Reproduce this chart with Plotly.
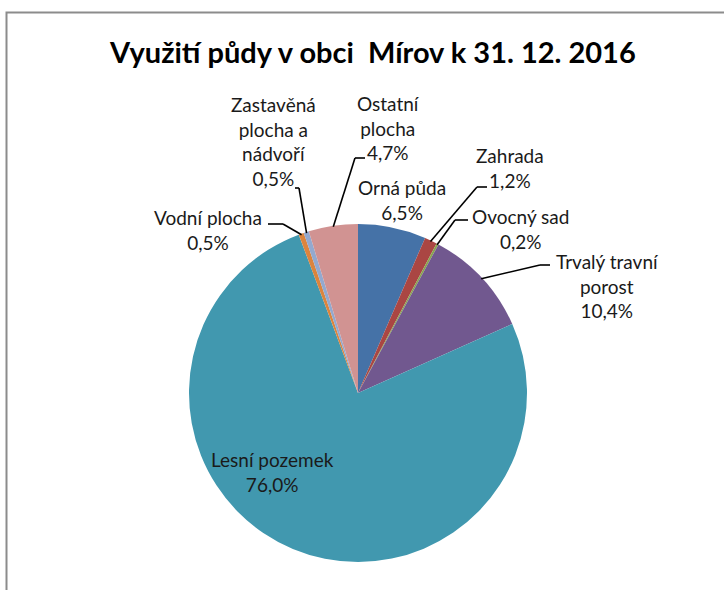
import math
import plotly.graph_objects as go

# ---- data ----
categories = ["Orná půda", "Zahrada", "Ovocný sad", "Trvalý travní porost",
              "Lesní pozemek", "Vodní plocha", "Zastavěná plocha a nádvoří",
              "Ostatní plocha"]
values = [6.5, 1.2, 0.2, 10.4, 76.0, 0.5, 0.5, 4.7]
label_names = ["Orná půda", "Zahrada", "Ovocný sad", "Trvalý travní<br>porost",
               "Lesní pozemek", "Vodní plocha", "Zastavěná<br>plocha a<br>nádvoří",
               "Ostatní<br>plocha"]
title_text = "Využití půdy v obci  Mírov k 31. 12. 2016"

# ---- styles / positions ----
colors = ["#4572A7", "#AA4643", "#89A54E", "#71588F",
          "#4198AF", "#DB843D", "#93A9CF", "#D19392"]
W, H = 724, 590
CX, CY, R = 358, 393, 169           # pie centre / radius in pixels
# label block centres (pixels)
label_pos = [(402, 200), (510, 168), (520, 229), (607, 286),
             (272, 472), (208, 230), (273, 141), (388, 128)]
# leader elbows: list of points after the pie edge point (pixels), None = no line
leaders = [None,
           [(477, 187), (487, 187)],
           [(455, 220), (468, 220)],
           [(540, 265), (550, 265)],
           None,
           [(283, 224), (268, 224)],
           [(299, 188), (295, 188)],
           [(355, 158), (365, 158)]]
FONT = "Lato"

def px(x):
    return x / W

def py(y):
    return 1 - y / H

fig = go.Figure()
fig.add_trace(go.Pie(
    labels=categories, values=values, sort=False, direction="clockwise",
    rotation=0, marker=dict(colors=colors, line=dict(width=0)),
    textinfo="none", hoverinfo="label+percent", showlegend=False,
    domain=dict(x=[px(CX - R), px(CX + R)], y=[py(CY + R), py(CY - R)]),
))

total = sum(values)
cum = 0.0
shapes = []
annotations = []
for i, v in enumerate(values):
    mid = (cum + v / 2) / total * 2 * math.pi
    cum += v
    ex = CX + (R - 1) * math.sin(mid)
    ey = CY - (R - 1) * math.cos(mid)
    txt = label_names[i] + "<br>" + f"{v:.1f}".replace(".", ",") + "%"
    lx, ly = label_pos[i]
    annotations.append(dict(x=px(lx), y=py(ly), xref="paper", yref="paper",
                            text=txt, showarrow=False, align="center",
                            xanchor="center", yanchor="middle",
                            font=dict(family=FONT, size=19, color="#1a1a1a")))
    if leaders[i]:
        pts = [(ex, ey)] + leaders[i]
        for (x0, y0), (x1, y1) in zip(pts[:-1], pts[1:]):
            shapes.append(dict(type="line", xref="paper", yref="paper",
                               x0=px(x0), y0=py(y0), x1=px(x1), y1=py(y1),
                               line=dict(color="#000000", width=1.6)))

# chart frame
shapes.append(dict(type="rect", xref="paper", yref="paper",
                   x0=px(6.5), y0=-0.05, x1=1.05, y1=py(12.5),
                   line=dict(color="#8c8c8c", width=2), fillcolor="rgba(0,0,0,0)"))

annotations.append(dict(x=px(372), y=py(52), xref="paper", yref="paper",
                        text="<b>" + title_text + "</b>", showarrow=False,
                        xanchor="center", yanchor="middle",
                        font=dict(family=FONT, size=29, color="#000000")))

fig.update_layout(width=W, height=H, margin=dict(l=0, r=0, t=0, b=0),
                  paper_bgcolor="white", plot_bgcolor="white",
                  shapes=shapes, annotations=annotations)
fig.write_html("out.html", config={"displayModeBar": False},
               post_script="document.body.style.margin='0';document.body.style.overflow='hidden';")
